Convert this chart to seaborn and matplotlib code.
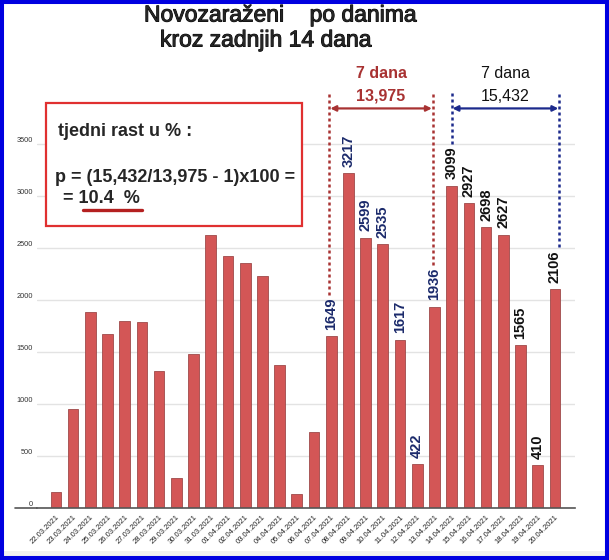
import matplotlib
matplotlib.use('Agg')
import matplotlib.pyplot as plt
import matplotlib.patheffects as pe
from matplotlib.patches import Rectangle
import seaborn as sns
import pandas as pd
import numpy as np

# daily new cases 22.03.2021 - 20.04.2021
dates = ['22.03.2021', '23.03.2021', '24.03.2021', '25.03.2021', '26.03.2021',
         '27.03.2021', '28.03.2021', '29.03.2021', '30.03.2021', '31.03.2021',
         '01.04.2021', '02.04.2021', '03.04.2021', '04.04.2021', '05.04.2021',
         '06.04.2021', '07.04.2021', '08.04.2021', '09.04.2021', '10.04.2021',
         '11.04.2021', '12.04.2021', '13.04.2021', '14.04.2021', '15.04.2021',
         '16.04.2021', '17.04.2021', '18.04.2021', '19.04.2021', '20.04.2021']
cases = [150, 955, 1880, 1670, 1800, 1785, 1320, 290, 1480, 2620,
         2420, 2355, 2230, 1375, 130, 730, 1649, 3217, 2599, 2535,
         1617, 422, 1936, 3099, 2927, 2698, 2627, 1565, 410, 2106]
week1 = list(range(16, 23))
week2 = list(range(23, 30))
yticks = [0, 500, 1000, 1500, 2000, 2500, 3000, 3500]

sum1 = sum(cases[i] for i in week1)
sum2 = sum(cases[i] for i in week2)
growth = (sum2 / sum1 - 1) * 100

W, H = 609, 560


def fx(x):
    return x / W


def fy(y):
    return 1 - y / H


sns.set_style('white')
plt.rcParams['font.family'] = ['Liberation Sans', 'DejaVu Sans']

fig = plt.figure(figsize=(W / 100, H / 100), dpi=100)
ax = fig.add_axes([fx(37), fy(508), fx(575) - fx(37), (508 - 123) / H])

df = pd.DataFrame({'datum': dates, 'broj': cases})
sns.barplot(data=df, x='datum', y='broj', color='#D35656', saturation=1,
            width=0.62, edgecolor='#9E4A4A', linewidth=0.6, ax=ax)

ax.set_xlim(-1.1, 30.17)
ax.set_ylim(0, 3700)
ax.set_yticks(yticks)
ax.yaxis.grid(True, color='#e3e3e3', lw=1)
ax.set_axisbelow(True)
for s in ['left', 'top', 'right']:
    ax.spines[s].set_visible(False)
ax.spines['bottom'].set_color('#555555')
ax.spines['bottom'].set_linewidth(1.2)
ax.plot([-0.04, 0], [0, 0], transform=ax.transAxes, color='#555555', lw=1.2, clip_on=False)
ax.set_xlabel('')
ax.set_ylabel('')
ax.tick_params(axis='y', length=0, labelsize=5.3, labelcolor='#333333', pad=3)
for lab in ax.get_yticklabels():
    lab.set_va('bottom')
ax.tick_params(axis='x', which='major', length=0, labelsize=5.5, labelcolor='#222222', pad=4)
ax.set_xticks(np.arange(-0.5, len(dates), 1), minor=True)
ax.tick_params(axis='x', which='minor', length=4, color='#888888', width=1)
plt.setp(ax.get_xticklabels(), rotation=45, ha='right', rotation_mode='anchor')

# value labels
for i in week1 + week2:
    col = '#1B2A6B' if i in week1 else '#111111'
    ax.annotate(str(cases[i]), (i, cases[i]), xytext=(0, 4.5), textcoords='offset points',
                rotation=90, ha='center', va='bottom', fontsize=10.5,
                fontweight='bold', color=col)

# week brackets
red = '#A83232'
blue = '#1C2A8C'
top = 3990
arr_y = 3840
brackets = [(15.9, 21.9, cases[16], cases[22], red, '7 dana', f'{sum1:,}', red, 'bold'),
            (23.0, 29.25, cases[23], cases[29], blue, '7 dana', f'{sum2:,}', '#111111', 'normal')]
for x0, x1, v0, v1, c, t1, t2, tc, fw in brackets:
    ax.plot([x0, x0], [v0 + 400, top], ls=(0, (1.2, 1.2)), lw=1.8, color=c, clip_on=False)
    ax.plot([x1, x1], [v1 + 400, top], ls=(0, (1.2, 1.2)), lw=1.8, color=c, clip_on=False)
    ax.annotate('', xy=(x0 + 0.05, arr_y), xytext=(x1 - 0.05, arr_y),
                arrowprops=dict(arrowstyle='<|-|>', color=c, lw=1.6,
                                mutation_scale=8, shrinkA=0, shrinkB=0),
                annotation_clip=False)
    xm = (x0 + x1) / 2
    ax.text(xm, 4180, t1, ha='center', va='center', fontsize=11.5, fontweight=fw, color=tc)
    ax.text(xm, 3955, t2, ha='center', va='center', fontsize=11.5, fontweight=fw, color=tc)

# title
thick = [pe.withStroke(linewidth=0.7, foreground='black')]
fig.text(fx(144), fy(15), 'Novozaraženi    po danima', fontsize=16.5, ha='left',
         va='center', path_effects=thick)
fig.text(fx(160), fy(40), 'kroz zadnjih 14 dana', fontsize=16.5, ha='left',
         va='center', path_effects=thick)

# info box
fig.patches.append(Rectangle((fx(46), fy(226)), fx(302) - fx(46), (226 - 103) / H,
                             transform=fig.transFigure, facecolor='white',
                             edgecolor='#E03030', lw=1.6, zorder=3))
fig.text(fx(58), fy(131), 'tjedni rast u % :', fontsize=13, fontweight='bold',
         ha='left', va='center', zorder=4)
fig.text(fx(55), fy(178), 'p = (' + f'{sum2:,}' + '/' + f'{sum1:,}' + ' - 1)x100 =',
         fontsize=13, fontweight='bold', ha='left', va='center', zorder=4)
fig.text(fx(63), fy(198), f'= {growth:.1f}  %', fontsize=13, fontweight='bold',
         ha='left', va='center', zorder=4)
fig.lines.append(plt.Line2D([fx(83), fx(142)], [fy(210), fy(210)], transform=fig.transFigure,
                            color='#B42020', lw=2.4, zorder=4))

# bottom band and blue frame
fig.patches.append(Rectangle((0, fy(556)), 1, 5 / H, transform=fig.transFigure,
                             facecolor='#f0f0f0', edgecolor='none', zorder=0))
fig.patches.append(Rectangle((0, 0), 1, 1, transform=fig.transFigure, fill=False,
                             edgecolor='#0000E0', lw=5.8, zorder=10))

fig.savefig('out.png', dpi=100)
